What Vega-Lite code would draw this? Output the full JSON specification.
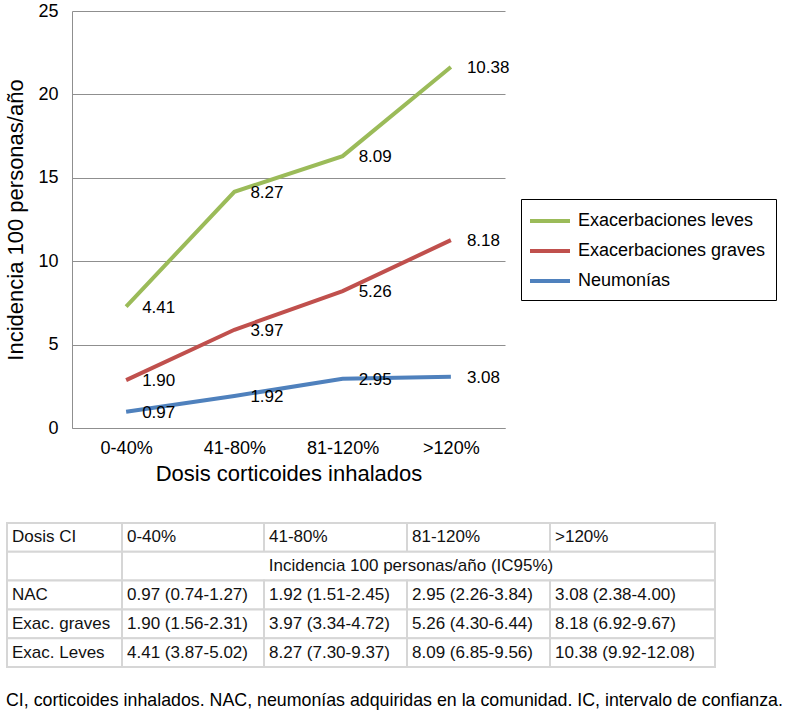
{
  "$schema": "https://vega.github.io/schema/vega-lite/v6.json",
  "background": "white",
  "padding": {"top": 2, "left": 4, "right": 0, "bottom": 0},
  "autosize": {"type": "pad"},
  "config": {
    "font": "Liberation Sans",
    "view": {"stroke": null},
    "axis": {"labelColor": "#000000", "titleColor": "#000000", "titleFontWeight": "normal", "labelFont": "Liberation Sans", "titleFont": "Liberation Sans"},
    "title": {"fontWeight": "normal", "color": "#000000"}
  },
  "columns": 1,
  "align": "none",
  "spacing": 38,
  "concat": [
    {
      "width": 433,
      "height": 417,
      "data": {
        "values": [
          {"dosis": "0-40%", "serie": "Neumonías", "orden": 1, "valor": 0.97},
          {"dosis": "41-80%", "serie": "Neumonías", "orden": 1, "valor": 1.92},
          {"dosis": "81-120%", "serie": "Neumonías", "orden": 1, "valor": 2.95},
          {"dosis": ">120%", "serie": "Neumonías", "orden": 1, "valor": 3.08},
          {"dosis": "0-40%", "serie": "Exacerbaciones graves", "orden": 2, "valor": 1.90},
          {"dosis": "41-80%", "serie": "Exacerbaciones graves", "orden": 2, "valor": 3.97},
          {"dosis": "81-120%", "serie": "Exacerbaciones graves", "orden": 2, "valor": 5.26},
          {"dosis": ">120%", "serie": "Exacerbaciones graves", "orden": 2, "valor": 8.18},
          {"dosis": "0-40%", "serie": "Exacerbaciones leves", "orden": 3, "valor": 4.41},
          {"dosis": "41-80%", "serie": "Exacerbaciones leves", "orden": 3, "valor": 8.27},
          {"dosis": "81-120%", "serie": "Exacerbaciones leves", "orden": 3, "valor": 8.09},
          {"dosis": ">120%", "serie": "Exacerbaciones leves", "orden": 3, "valor": 10.38}
        ]
      },
      "transform": [
        {"stack": "valor", "groupby": ["dosis"], "sort": [{"field": "orden", "order": "ascending"}], "as": ["y0", "y1"]}
      ],
      "encoding": {
        "x": {
          "field": "dosis", "type": "nominal",
          "sort": ["0-40%", "41-80%", "81-120%", ">120%"],
          "scale": {"type": "point", "padding": 0.5},
          "axis": {
            "title": "Dosis corticoides inhalados",
            "labelAngle": 0, "ticks": false, "tickSize": 0,
            "domainColor": "#8f8f8f", "domainWidth": 1,
            "labelFontSize": 18, "labelPadding": 11,
            "titleFontSize": 22, "titlePadding": 6
          }
        },
        "y": {
          "field": "y1", "type": "quantitative",
          "scale": {"domain": [0, 25], "nice": false},
          "axis": {
            "title": "Incidencia 100 personas/año",
            "values": [0, 5, 10, 15, 20, 25],
            "ticks": false, "tickSize": 0,
            "grid": true, "gridColor": "#8f8f8f", "gridOpacity": 1,
            "domainColor": "#8f8f8f",
            "labelFontSize": 18, "labelPadding": 14,
            "titleFontSize": 22, "titlePadding": 10
          }
        }
      },
      "layer": [
        {
          "mark": {"type": "line", "strokeWidth": 4},
          "encoding": {
            "color": {
              "field": "serie", "type": "nominal",
              "scale": {
                "domain": ["Exacerbaciones leves", "Exacerbaciones graves", "Neumonías"],
                "range": ["#9BBB59", "#C0504D", "#4F81BD"]
              },
              "legend": {
                "title": null,
                "orient": "none",
                "legendX": 449,
                "legendY": 188,
                "strokeColor": "#000000",
                "padding": 10,
                "symbolType": "M-2,0L2,0",
                "symbolSize": 400,
                "symbolStrokeWidth": 4,
                "symbolOffset": 7,
                "labelFontSize": 18,
                "labelLimit": 0,
                "labelColor": "#000000",
                "labelOffset": 16,
                "rowPadding": 9
              }
            }
          }
        },
        {
          "mark": {"type": "text", "align": "left", "baseline": "middle", "dx": 16, "dy": 1, "fontSize": 17, "color": "#000000"},
          "encoding": {
            "text": {"field": "valor", "type": "quantitative", "format": ".2f"}
          }
        }
      ]
    },
    {
      "width": 643,
      "height": 144,
      "title": {
        "text": "CI, corticoides inhalados. NAC, neumonías adquiridas en la comunidad. IC, intervalo de confianza.",
        "orient": "bottom", "anchor": "start", "offset": 24,
        "fontSize": 17.8, "fontWeight": "normal", "color": "#000000"
      },
      "data": {
        "values": [
          {"fila": 1, "c0": 0, "c1": 1, "texto": "Dosis CI"},
          {"fila": 1, "c0": 1, "c1": 2, "texto": "0-40%"},
          {"fila": 1, "c0": 2, "c1": 3, "texto": "41-80%"},
          {"fila": 1, "c0": 3, "c1": 4, "texto": "81-120%"},
          {"fila": 1, "c0": 4, "c1": 5, "texto": ">120%"},
          {"fila": 2, "c0": 0, "c1": 1, "texto": ""},
          {"fila": 2, "c0": 1, "c1": 5, "texto": "Incidencia 100 personas/año (IC95%)"},
          {"fila": 3, "c0": 0, "c1": 1, "texto": "NAC"},
          {"fila": 3, "c0": 1, "c1": 2, "texto": "0.97 (0.74-1.27)"},
          {"fila": 3, "c0": 2, "c1": 3, "texto": "1.92 (1.51-2.45)"},
          {"fila": 3, "c0": 3, "c1": 4, "texto": "2.95 (2.26-3.84)"},
          {"fila": 3, "c0": 4, "c1": 5, "texto": "3.08 (2.38-4.00)"},
          {"fila": 4, "c0": 0, "c1": 1, "texto": "Exac. graves"},
          {"fila": 4, "c0": 1, "c1": 2, "texto": "1.90 (1.56-2.31)"},
          {"fila": 4, "c0": 2, "c1": 3, "texto": "3.97 (3.34-4.72)"},
          {"fila": 4, "c0": 3, "c1": 4, "texto": "5.26 (4.30-6.44)"},
          {"fila": 4, "c0": 4, "c1": 5, "texto": "8.18 (6.92-9.67)"},
          {"fila": 5, "c0": 0, "c1": 1, "texto": "Exac. Leves"},
          {"fila": 5, "c0": 1, "c1": 2, "texto": "4.41 (3.87-5.02)"},
          {"fila": 5, "c0": 2, "c1": 3, "texto": "8.27 (7.30-9.37)"},
          {"fila": 5, "c0": 3, "c1": 4, "texto": "8.09 (6.85-9.56)"},
          {"fila": 5, "c0": 4, "c1": 5, "texto": "10.38 (9.92-12.08)"}
        ]
      },
      "encoding": {
        "y": {"field": "fila", "type": "ordinal", "scale": {"paddingInner": 0, "paddingOuter": 0}, "axis": null}
      },
      "layer": [
        {
          "mark": {"type": "rect", "fill": "white", "stroke": "#d6d6d6", "strokeWidth": 2},
          "encoding": {
            "x": {"field": "c0", "type": "quantitative", "scale": {"domain": [0, 1, 2, 3, 4, 5], "range": [-65, 50, 192, 335, 478, 643], "nice": false, "zero": false}, "axis": null},
            "x2": {"field": "c1"}
          }
        },
        {
          "transform": [{"filter": "datum.fila != 2"}],
          "mark": {"type": "text", "align": "left", "baseline": "middle", "dx": 5, "fontSize": 17, "color": "#111111"},
          "encoding": {
            "x": {"field": "c0", "type": "quantitative"},
            "text": {"field": "texto"}
          }
        },
        {
          "transform": [{"filter": "datum.fila == 2 && datum.c0 == 1"}],
          "mark": {"type": "text", "align": "center", "baseline": "middle", "dx": 4, "fontSize": 17, "color": "#111111"},
          "encoding": {
            "x": {"datum": 3, "type": "quantitative"},
            "text": {"field": "texto"}
          }
        }
      ]
    }
  ]
}
